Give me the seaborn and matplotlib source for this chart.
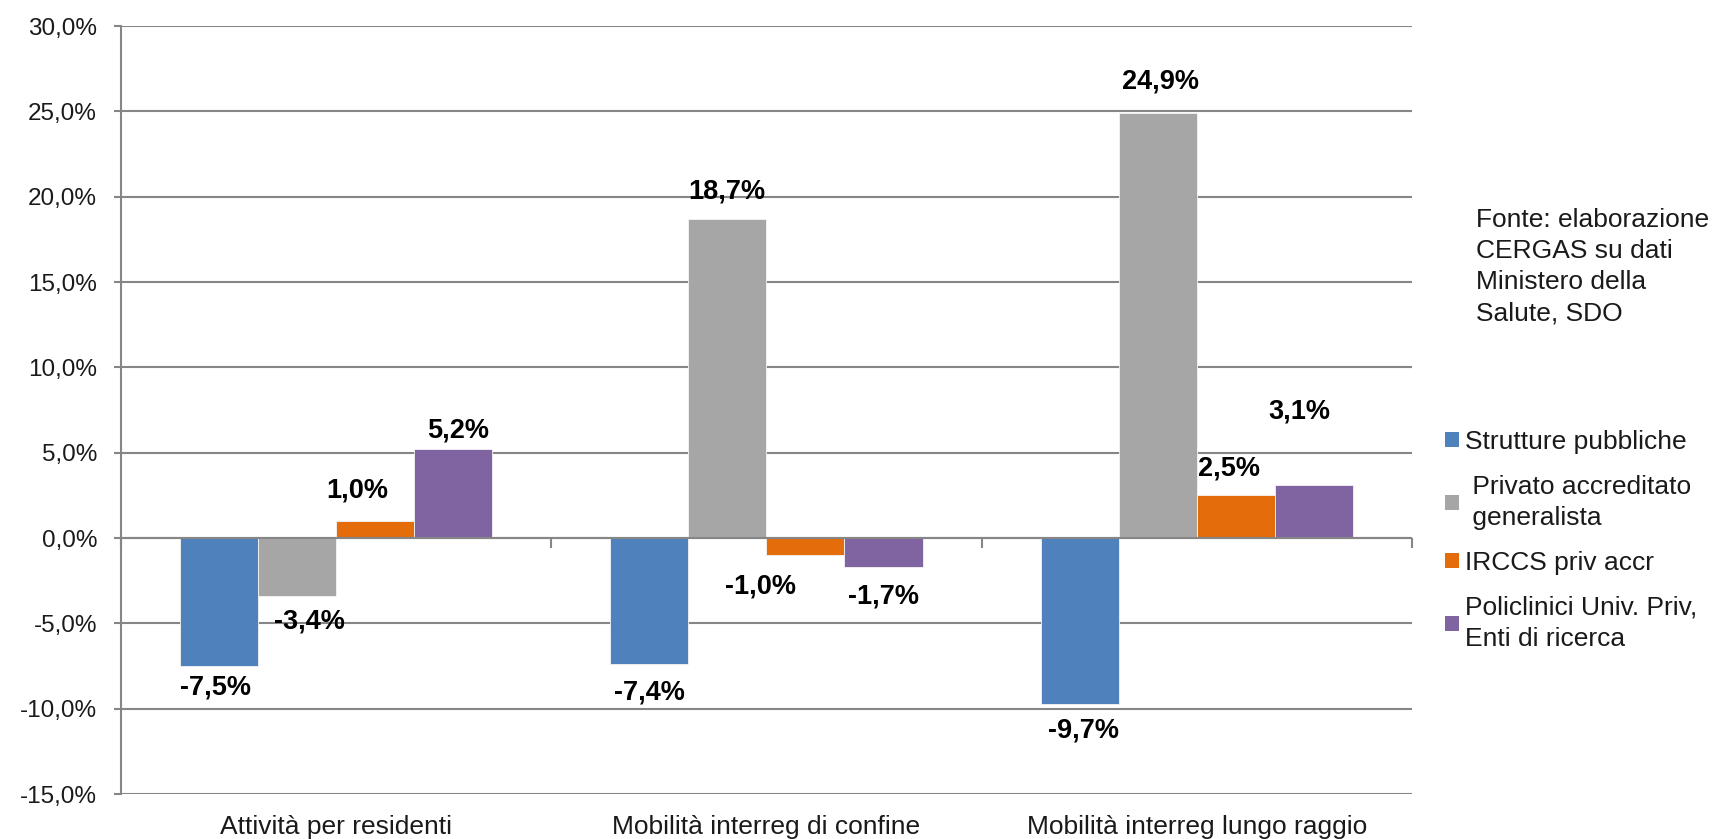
import matplotlib
matplotlib.use("Agg")
import matplotlib.pyplot as plt
from matplotlib.ticker import FuncFormatter, MultipleLocator
import numpy as np
import pandas as pd
import seaborn as sns

# --- data -----------------------------------------------------------------
categories = [
    "Attività per residenti",
    "Mobilità interreg di confine",
    "Mobilità interreg lungo raggio",
]
series = [
    "Strutture pubbliche",
    " Privato accreditato\n generalista",
    "IRCCS priv accr",
    "Policlinici Univ. Priv,\nEnti di ricerca",
]
strutture_pubbliche = [-7.5, -7.4, -9.7]
privato_generalista = [-3.4, 18.7, 24.9]
irccs_priv_accr = [1.0, -1.0, 2.5]
policlinici_enti = [5.2, -1.7, 3.1]
source_note = "Fonte: elaborazione\nCERGAS su dati\nMinistero della\nSalute, SDO"

values = [strutture_pubbliche, privato_generalista, irccs_priv_accr, policlinici_enti]
colors = ["#4F81BD", "#A6A6A6", "#E46C0A", "#8064A2"]

df = pd.DataFrame(
    [(c, s, v[i]) for s, v in zip(series, values) for i, c in enumerate(categories)],
    columns=["categoria", "serie", "valore"],
)

# --- style ----------------------------------------------------------------
sns.set_theme(style="white")
plt.rcParams["font.family"] = ["Liberation Sans", "DejaVu Sans"]
grid_col = "#868686"
text_col = "#1a1a1a"

W, H = 1712, 839
fig = plt.figure(figsize=(W / 100, H / 100), dpi=100)
ax = fig.add_axes([120.7 / W, 1 - 794 / H, (1412 - 120.7) / W, (794 - 26) / H])

sns.barplot(
    data=df, x="categoria", y="valore", hue="serie",
    order=categories, hue_order=series, palette=colors,
    width=0.726, gap=0, dodge=True, saturation=1,
    edgecolor="#f4f4f4", linewidth=0.6, legend=False, ax=ax, zorder=3,
)

ax.set_ylim(-15, 30)
ax.set_xlim(-0.5, len(categories) - 0.5)
ax.yaxis.set_major_locator(MultipleLocator(5))
ax.yaxis.set_major_formatter(
    FuncFormatter(lambda v, _: f"{v:.1f}".replace(".", ",") + "%")
)
ax.set_xlabel("")
ax.set_ylabel("")

ax.grid(axis="y", color=grid_col, linewidth=1.5, zorder=0)
ax.grid(axis="x", visible=False)
ax.set_axisbelow(True)
for side in ["top", "right", "bottom"]:
    ax.spines[side].set_visible(False)
ax.spines["left"].set_color(grid_col)
ax.spines["left"].set_linewidth(1.5)

ax.tick_params(axis="y", which="major", length=5, width=1.5, color=grid_col,
               direction="out", left=True, pad=12, labelsize=17.5,
               labelcolor=text_col)
ax.tick_params(axis="x", length=0, pad=15, labelsize=19, labelcolor=text_col)

# category separator ticks on the zero line
bounds = np.arange(len(categories) + 1) - 0.5
ax.plot(bounds, np.zeros_like(bounds), linestyle="none", marker=3,
        markersize=7, markeredgewidth=1.5, color=grid_col, zorder=4,
        clip_on=False)
ax.axhline(0, color=grid_col, linewidth=1.5, zorder=4)

# --- value labels ---------------------------------------------------------
# per-label nudges in points, keyed by (series index, category index)
nudges = {
    (0, 0): (-2, 3), (1, 0): (9, 0), (2, 0): (-13, 3), (3, 0): (3.5, -5.5),
    (0, 1): (0, -1.5), (1, 1): (0, 0.7), (2, 1): (-32, -3.6), (3, 1): (0, -2.5),
    (0, 2): (3, -0.7), (1, 2): (2, 3.7), (2, 2): (-5, 0.7), (3, 2): (-10.4, 34.6),
}
for si, container in enumerate(ax.containers):
    for ci, bar in enumerate(container):
        v = bar.get_height()
        xc = bar.get_x() + bar.get_width() / 2
        dx, dy = nudges.get((si, ci), (0, 0))
        base = 18.7 if v >= 0 else -18.7
        ax.annotate(
            f"{v:.1f}".replace(".", ",") + "%",
            xy=(xc, v), xytext=(dx, base + dy), textcoords="offset points",
            ha="center", va="center", fontsize=19.5, fontweight="bold",
            color="black", zorder=5,
        )

# --- legend ---------------------------------------------------------------
handles = [plt.Rectangle((0, 0), 1, 1, facecolor=c, edgecolor="none") for c in colors]
leg = fig.legend(
    handles, series, loc="upper left", bbox_to_anchor=(1445 / W, 1 - 430 / H),
    frameon=False, fontsize=19, handlelength=0.52, handleheight=0.52,
    handletextpad=0.25, labelspacing=0.8, borderaxespad=0, borderpad=0,
)
for t in leg.get_texts():
    t.set_color(text_col)
    t.set_linespacing(1.35)

fig.text(1476 / W, 1 - 208 / H, source_note, ha="left", va="top",
         fontsize=19, color=text_col, linespacing=1.38)

fig.savefig("out.png", dpi=100, facecolor="white")
